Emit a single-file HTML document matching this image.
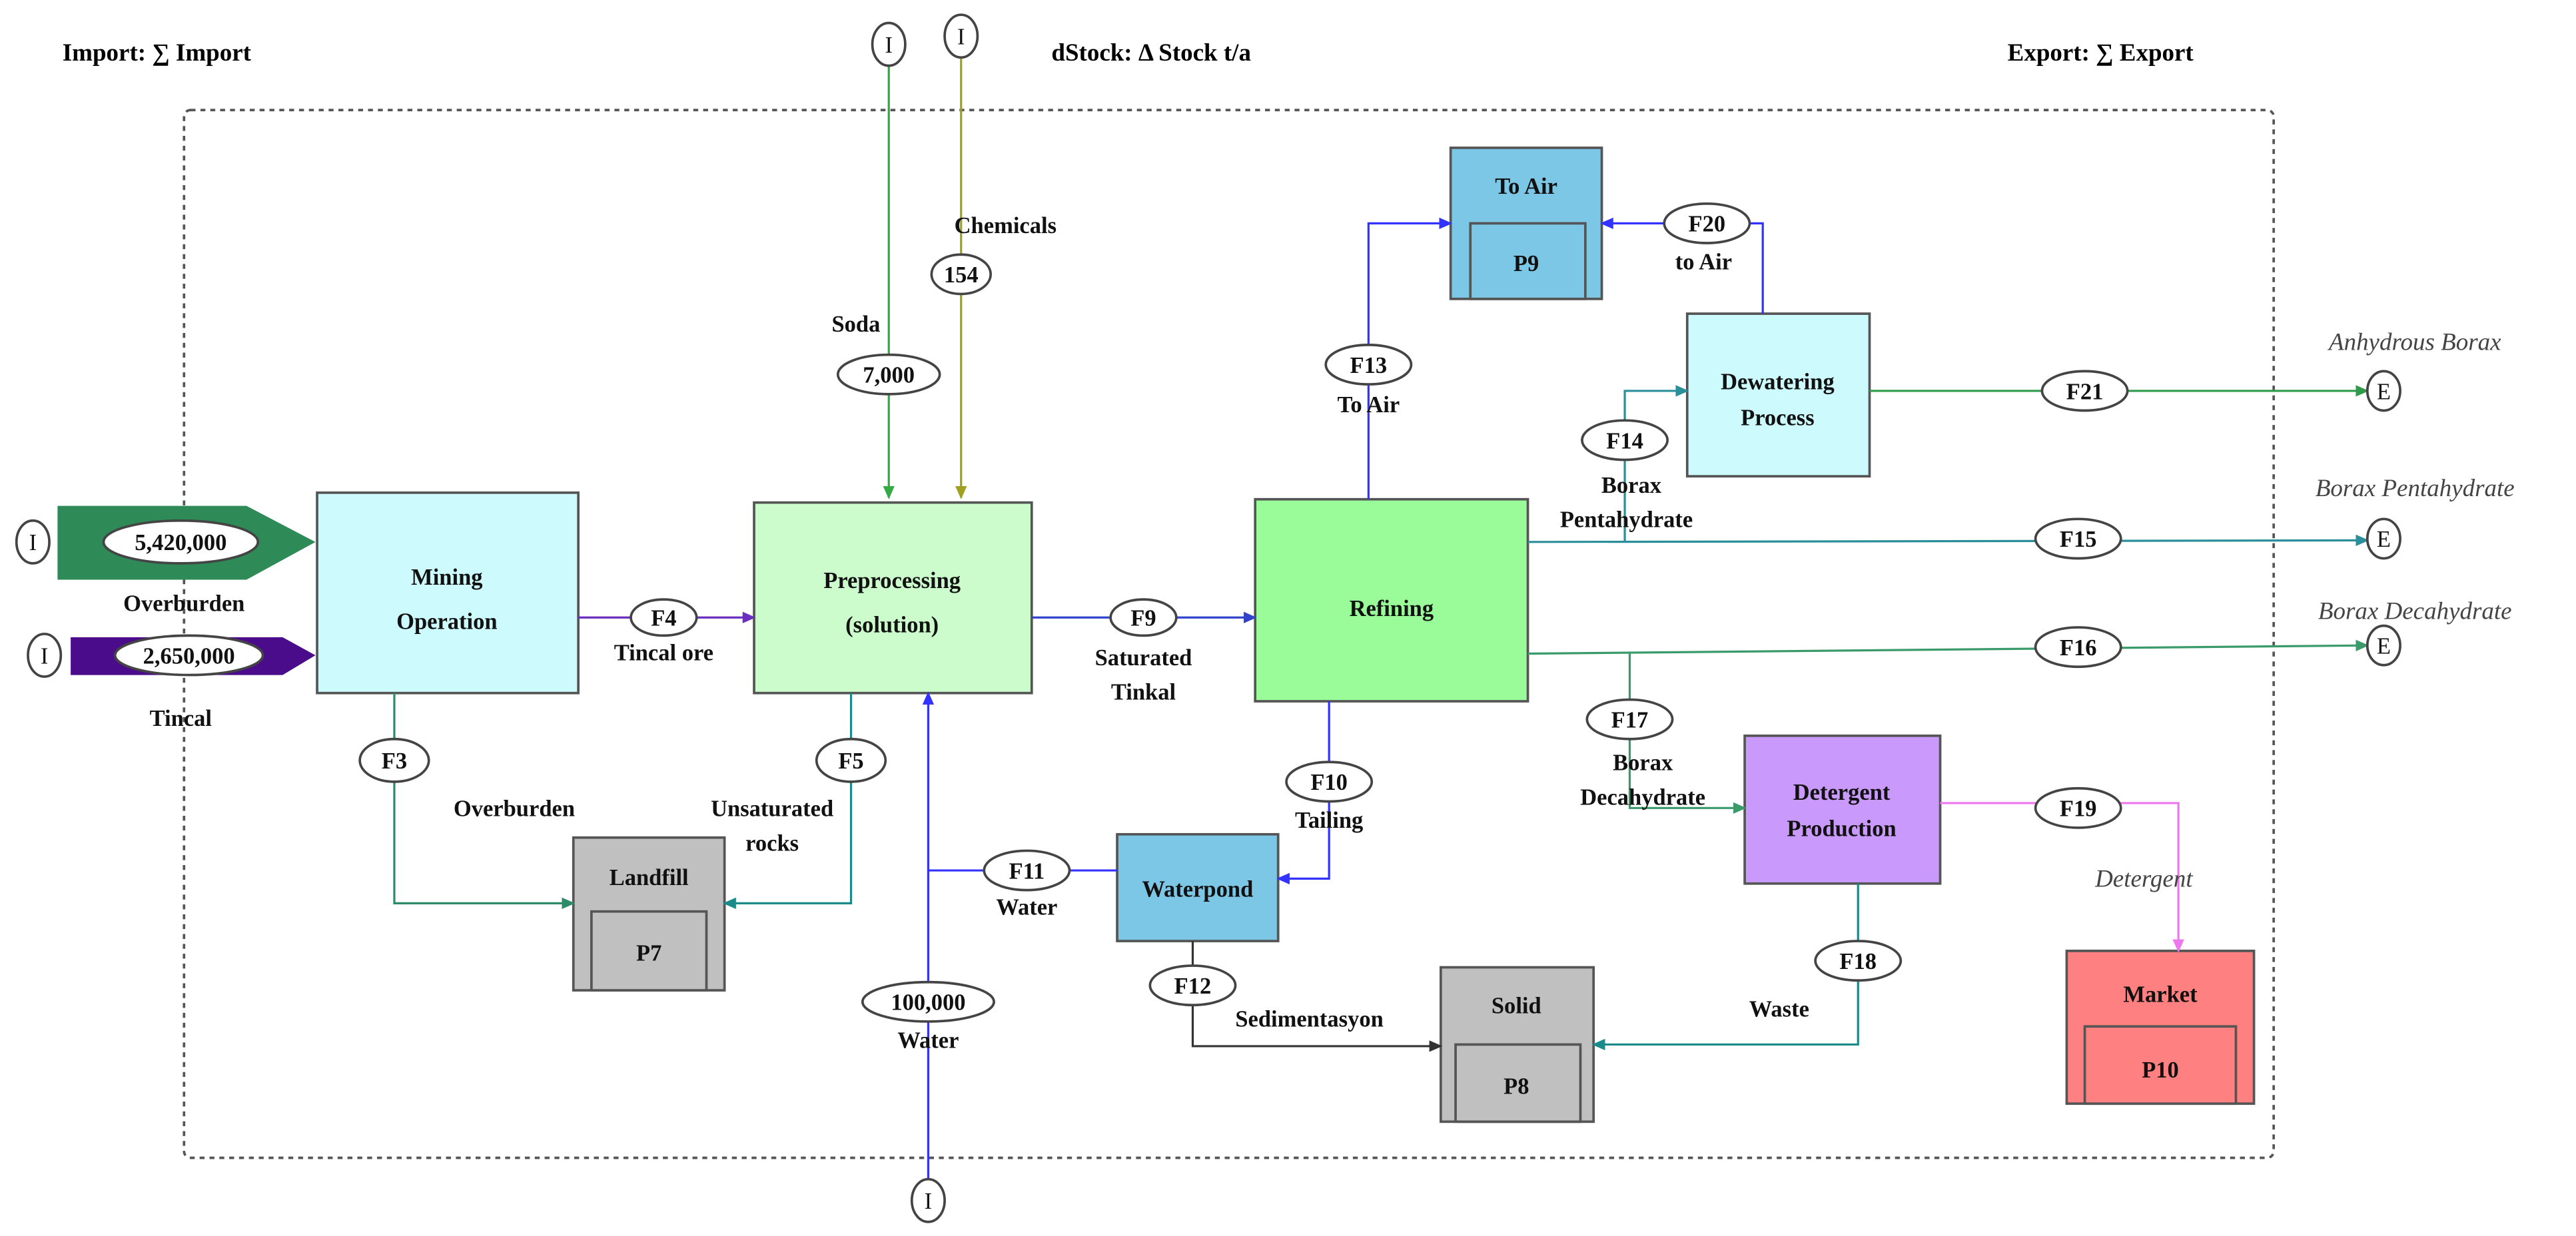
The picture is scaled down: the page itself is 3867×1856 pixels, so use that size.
<!DOCTYPE html>
<html><head><meta charset="utf-8"><style>html,body{margin:0;padding:0;background:#fff}svg{display:block}</style></head>
<body>
<svg width="3867" height="1856" viewBox="0 0 1568 752.6" xmlns="http://www.w3.org/2000/svg" font-family="Liberation Serif, serif" font-weight="bold">
<defs>
<marker id="a" markerWidth="8" markerHeight="8" refX="7" refY="4" orient="auto" markerUnits="userSpaceOnUse"><path d="M0,0.5 L8,4 L0,7.5z" fill="context-stroke"/></marker>
</defs>
<style>
.l{fill:none;stroke-width:1.3}
.e{fill:#fff;stroke:#444;stroke-width:1.5}
.t{font-size:14px;text-anchor:middle;fill:#111}
.b{stroke:#555;stroke-width:1.5}
.i{font-size:15px;text-anchor:middle;font-style:italic;font-weight:normal;fill:#444}
</style>
<!-- headers -->
<text x="38" y="37" font-size="15">Import: ∑ Import</text>
<text x="640" y="37" font-size="15">dStock: Δ Stock t/a</text>
<text x="1222" y="37" font-size="15">Export: ∑ Export</text>
<rect x="112" y="67" width="1272" height="638" rx="4" fill="none" stroke="#555" stroke-width="1.5" stroke-dasharray="3,3"/>

<!-- top inputs -->
<line x1="541" y1="40" x2="541" y2="303" class="l" stroke="#33aa44" marker-end="url(#a)"/>
<line x1="585" y1="35" x2="585" y2="303" class="l" stroke="#a0a020" marker-end="url(#a)"/>
<ellipse cx="541" cy="27" rx="10" ry="13" class="e"/><text x="541" y="32" class="t" font-weight="normal">I</text>
<ellipse cx="585" cy="22" rx="10" ry="13" class="e"/><text x="585" y="27" class="t" font-weight="normal">I</text>
<text x="521" y="202" class="t">Soda</text>
<ellipse cx="541" cy="228" rx="31" ry="12" class="e"/><text x="541" y="233" class="t">7,000</text>
<text x="612" y="142" class="t">Chemicals</text>
<ellipse cx="585" cy="167" rx="18" ry="12" class="e"/><text x="585" y="172" class="t">154</text>

<!-- boxes -->
<rect x="193" y="300" width="159" height="122" fill="#ccfafd" class="b"/>
<text x="272" y="356" class="t" font-size="21">Mining</text><text x="272" y="383" class="t" font-size="21">Operation</text>
<rect x="459" y="306" width="169" height="116" fill="#ccfccc" class="b"/>
<text x="543" y="358" class="t" font-size="21">Preprocessing</text><text x="543" y="385" class="t" font-size="21">(solution)</text>
<rect x="764" y="304" width="166" height="123" fill="#99fc99" class="b"/>
<text x="847" y="375" class="t" font-size="21">Refining</text>
<rect x="1027" y="191" width="111" height="99" fill="#ccfafd" class="b"/>
<text x="1082" y="237" class="t" font-size="16">Dewatering</text><text x="1082" y="259" class="t" font-size="16">Process</text>
<rect x="1062" y="448" width="119" height="90" fill="#c999fb" class="b"/>
<text x="1121" y="487" class="t" font-size="16">Detergent</text><text x="1121" y="509" class="t" font-size="16">Production</text>
<rect x="680" y="508" width="98" height="65" fill="#7cc6e6" class="b"/>
<text x="729" y="546" class="t" font-size="16">Waterpond</text>
<!-- stocks -->
<rect x="883" y="90" width="92" height="92" fill="#7cc6e6" class="b"/><rect x="895" y="136" width="70" height="46" fill="#7cc6e6" class="b"/>
<text x="929" y="118" class="t" font-size="15">To Air</text><text x="929" y="165" class="t" font-size="15">P9</text>
<rect x="349" y="510" width="92" height="93" fill="#c0c0c0" class="b"/><rect x="360" y="555" width="70" height="48" fill="#c0c0c0" class="b"/>
<text x="395" y="539" class="t" font-size="15">Landfill</text><text x="395" y="585" class="t" font-size="15">P7</text>
<rect x="877" y="589" width="93" height="94" fill="#c0c0c0" class="b"/><rect x="886" y="636" width="76" height="47" fill="#c0c0c0" class="b"/>
<text x="923" y="617" class="t" font-size="15">Solid</text><text x="923" y="666" class="t" font-size="15">P8</text>
<rect x="1258" y="579" width="114" height="93" fill="#ff8080" class="b"/><rect x="1269" y="625" width="92" height="47" fill="#ff8080" class="b"/>
<text x="1315" y="610" class="t" font-size="15">Market</text><text x="1315" y="656" class="t" font-size="15">P10</text>

<!-- import arrows -->
<path d="M35,308 L150,308 L192,330 L150,353 L35,353z" fill="#2e8b57"/>
<ellipse cx="110" cy="330" rx="47" ry="13" class="e"/><text x="110" y="335" class="t">5,420,000</text>
<ellipse cx="20" cy="330" rx="10" ry="13" class="e"/><text x="20" y="335" class="t" font-weight="normal">I</text>
<text x="112" y="372" class="t">Overburden</text>
<path d="M43,388 L172,388 L192,399 L172,411 L43,411z" fill="#4b0c8c"/>
<ellipse cx="115" cy="399" rx="45" ry="12" class="e"/><text x="115" y="404" class="t">2,650,000</text>
<ellipse cx="27" cy="399" rx="10" ry="13" class="e"/><text x="27" y="404" class="t" font-weight="normal">I</text>
<text x="110" y="442" class="t">Tincal</text>

<!-- flows -->
<line x1="352" y1="376" x2="459" y2="376" class="l" stroke="#6a2fbf" stroke-width="2" marker-end="url(#a)"/>
<ellipse cx="404" cy="376" rx="20" ry="11" class="e"/><text x="404" y="381" class="t">F4</text>
<text x="404" y="402" class="t">Tincal ore</text>
<line x1="628" y1="376" x2="764" y2="376" class="l" stroke="#3344cc" stroke-width="2" marker-end="url(#a)"/>
<ellipse cx="696" cy="376" rx="20" ry="11" class="e"/><text x="696" y="381" class="t">F9</text>
<text x="696" y="405" class="t">Saturated</text><text x="696" y="426" class="t">Tinkal</text>

<polyline points="240,422 240,550 349,550" class="l" stroke="#2e8b6a" marker-end="url(#a)"/>
<ellipse cx="240" cy="463" rx="21" ry="13" class="e"/><text x="240" y="468" class="t">F3</text>
<text x="313" y="497" class="t">Overburden</text>
<polyline points="518,422 518,550 441,550" class="l" stroke="#1a8a8a" marker-end="url(#a)"/>
<ellipse cx="518" cy="463" rx="21" ry="13" class="e"/><text x="518" y="468" class="t">F5</text>
<text x="470" y="497" class="t">Unsaturated</text><text x="470" y="518" class="t">rocks</text>

<line x1="565" y1="718" x2="565" y2="422" class="l" stroke="#3333ff" marker-end="url(#a)"/>
<ellipse cx="565" cy="731" rx="10" ry="13" class="e"/><text x="565" y="736" class="t" font-weight="normal">I</text>
<ellipse cx="565" cy="610" rx="40" ry="12" class="e"/><text x="565" y="615" class="t">100,000</text>
<text x="565" y="638" class="t">Water</text>
<line x1="680" y1="530" x2="565" y2="530" class="l" stroke="#3333ff" stroke-width="2"/>
<ellipse cx="625" cy="530" rx="26" ry="12" class="e"/><text x="625" y="535" class="t">F11</text>
<text x="625" y="557" class="t">Water</text>

<polyline points="809,427 809,535 778,535" class="l" stroke="#3333ff" marker-end="url(#a)"/>
<ellipse cx="809" cy="476" rx="26" ry="12" class="e"/><text x="809" y="481" class="t">F10</text>
<text x="809" y="504" class="t">Tailing</text>

<polyline points="726,573 726,637 877,637" class="l" stroke="#333" marker-end="url(#a)"/>
<ellipse cx="726" cy="600" rx="26" ry="12" class="e"/><text x="726" y="605" class="t">F12</text>
<text x="797" y="625" class="t">Sedimentasyon</text>

<polyline points="1131,538 1131,636 970,636" class="l" stroke="#1a8a8a" marker-end="url(#a)"/>
<ellipse cx="1131" cy="585" rx="26" ry="12" class="e"/><text x="1131" y="590" class="t">F18</text>
<text x="1083" y="619" class="t">Waste</text>

<polyline points="1181,489 1326,489 1326,579" class="l" stroke="#ee77ee" marker-end="url(#a)"/>
<ellipse cx="1265" cy="492" rx="26" ry="12" class="e"/><text x="1265" y="497" class="t">F19</text>
<text x="1305" y="540" class="i">Detergent</text>

<line x1="930" y1="398" x2="1441" y2="393" class="l" stroke="#3a9a6a" stroke-width="2" marker-end="url(#a)"/>
<ellipse cx="1265" cy="394" rx="26" ry="12" class="e"/><text x="1265" y="399" class="t">F16</text>
<ellipse cx="1451" cy="393" rx="10" ry="12" class="e"/><text x="1451" y="398" class="t" font-weight="normal">E</text>
<text x="1470" y="377" class="i">Borax Decahydrate</text>
<polyline points="992,398 992,492 1062,492" class="l" stroke="#3a9a6a" marker-end="url(#a)"/>
<ellipse cx="992" cy="438" rx="26" ry="12" class="e"/><text x="992" y="443" class="t">F17</text>
<text x="1000" y="469" class="t">Borax</text><text x="1000" y="490" class="t">Decahydrate</text>

<line x1="930" y1="330" x2="1441" y2="329" class="l" stroke="#2a8f9a" stroke-width="2" marker-end="url(#a)"/>
<ellipse cx="1265" cy="328" rx="26" ry="12" class="e"/><text x="1265" y="333" class="t">F15</text>
<ellipse cx="1451" cy="328" rx="10" ry="12" class="e"/><text x="1451" y="333" class="t" font-weight="normal">E</text>
<text x="1470" y="302" class="i">Borax Pentahydrate</text>
<polyline points="989,330 989,238 1027,238" class="l" stroke="#2a8f9a" marker-end="url(#a)"/>
<ellipse cx="989" cy="268" rx="26" ry="12" class="e"/><text x="989" y="273" class="t">F14</text>
<text x="993" y="300" class="t">Borax</text><text x="990" y="321" class="t">Pentahydrate</text>

<line x1="1138" y1="238" x2="1441" y2="238" class="l" stroke="#2e9a4a" stroke-width="2" marker-end="url(#a)"/>
<ellipse cx="1269" cy="238" rx="26" ry="12" class="e"/><text x="1269" y="243" class="t">F21</text>
<ellipse cx="1451" cy="238" rx="10" ry="12" class="e"/><text x="1451" y="243" class="t" font-weight="normal">E</text>
<text x="1470" y="213" class="i">Anhydrous Borax</text>

<polyline points="833,304 833,136 883,136" class="l" stroke="#3333ff" marker-end="url(#a)"/>
<ellipse cx="833" cy="222" rx="26" ry="12" class="e"/><text x="833" y="227" class="t">F13</text>
<text x="833" y="251" class="t">To Air</text>
<polyline points="1073,191 1073,136 975,136" class="l" stroke="#3333ff" marker-end="url(#a)"/>
<ellipse cx="1039" cy="136" rx="26" ry="12" class="e"/><text x="1039" y="141" class="t">F20</text>
<text x="1037" y="164" class="t">to Air</text>
</svg>
</body></html>
